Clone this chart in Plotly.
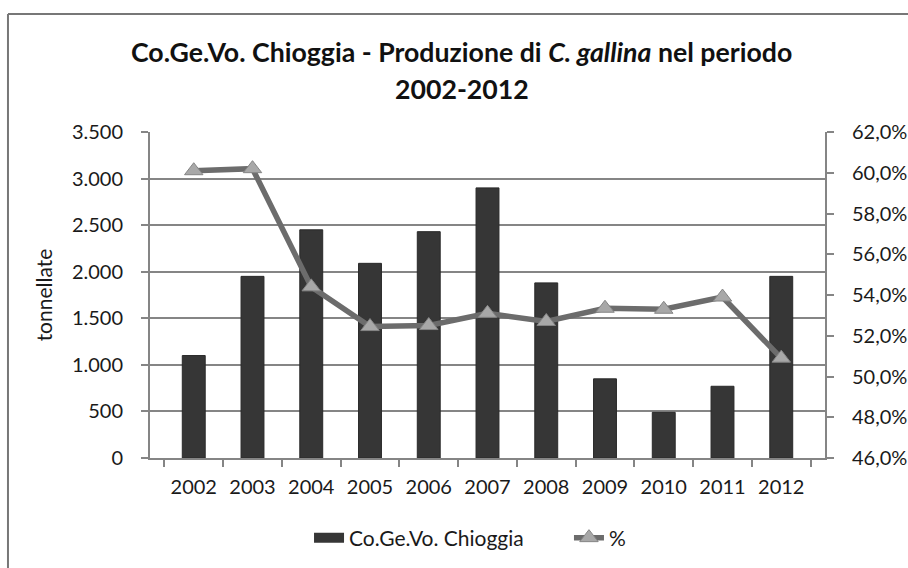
import plotly.graph_objects as go

years = ["2002", "2003", "2004", "2005", "2006", "2007", "2008", "2009", "2010", "2011", "2012"]
tonnes = [1100, 1950, 2450, 2090, 2430, 2900, 1880, 850, 490, 770, 1950]
pct = [60.1, 60.2, 54.4, 52.45, 52.5, 53.1, 52.7, 53.35, 53.3, 53.9, 50.9]

title_line1 = "<b>Co.Ge.Vo. Chioggia - Produzione di <i>C. gallina</i> nel periodo</b>"
title_line2 = "<b>2002-2012</b>"

FONT = "Lato, 'Open Sans', sans-serif"
GRID = "#858585"
BAR = "#363636"

fig = go.Figure()
fig.add_trace(go.Bar(
    x=years, y=tonnes, name="Co.Ge.Vo. Chioggia",
    marker=dict(color=BAR, line=dict(color="#2a2a2a", width=1)),
    width=0.39, showlegend=False,
))
# legend entry drawn as a wide flat bar, like the reference
fig.add_trace(go.Scatter(
    x=[None], y=[None], name="Co.Ge.Vo. Chioggia", mode="lines",
    line=dict(color=BAR, width=11), legend="legend",
))
fig.add_trace(go.Scatter(
    x=years, y=pct, name="%", yaxis="y2", mode="lines+markers",
    line=dict(color="#6c6c6c", width=5.5),
    marker=dict(symbol="triangle-up", size=16, color="#a8a8a8",
                line=dict(color="#858585", width=1)),
    legend="legend2",
))

fig.update_layout(
    width=908, height=568,
    margin=dict(l=150, r=83, t=132, b=110, autoexpand=False),
    paper_bgcolor="white", plot_bgcolor="white",
    separators=",.",
    font=dict(family=FONT, size=20, color="#1a1a1a"),
    showlegend=True,
    legend=dict(orientation="h", x=0.2356, xanchor="left", y=-0.2454, yanchor="middle",
                font=dict(family=FONT, size=21), bgcolor="rgba(0,0,0,0)"),
    legend2=dict(orientation="h", x=0.6207, xanchor="left", y=-0.2454, yanchor="middle",
                 font=dict(family=FONT, size=21), bgcolor="rgba(0,0,0,0)"),
    xaxis=dict(
        type="category", showgrid=False, showline=True, linecolor=GRID, linewidth=2,
        ticks="outside", tickson="boundaries", ticklen=7, tickcolor=GRID, tickwidth=2,
        tickfont=dict(size=20), ticklabelstandoff=10, automargin=False,
    ),
    yaxis=dict(
        range=[0, 3500], dtick=500, tickformat=",d",
        showgrid=True, gridcolor=GRID, gridwidth=2,
        showline=True, linecolor=GRID, linewidth=2,
        ticks="outside", ticklen=7, tickcolor=GRID, tickwidth=2,
        title=dict(text="tonnellate", font=dict(size=21), standoff=14),
        tickfont=dict(size=20), zeroline=False, ticklabelstandoff=14, automargin=False,
    ),
    yaxis2=dict(
        range=[46, 62], dtick=2, tickformat=".1f", ticksuffix="%",
        overlaying="y", side="right", showgrid=False,
        showline=True, linecolor=GRID, linewidth=2,
        ticks="outside", ticklen=7, tickcolor=GRID, tickwidth=2,
        tickfont=dict(size=20), zeroline=False, ticklabelstandoff=14, automargin=False,
    ),
    annotations=[
        dict(text=title_line1, xref="paper", yref="paper", x=0.462, y=1.2454,
             xanchor="center", yanchor="middle", showarrow=False,
             font=dict(family=FONT, size=26.7, color="#111111")),
        dict(text=title_line2, xref="paper", yref="paper", x=0.462, y=1.1319,
             xanchor="center", yanchor="middle", showarrow=False,
             font=dict(family=FONT, size=26.7, color="#111111")),
    ],
    shapes=[
        dict(type="line", xref="paper", yref="paper", x0=-0.2104, x1=-0.2104, y0=-0.5, y1=1.362,
             line=dict(color="#777777", width=2)),
        dict(type="line", xref="paper", yref="paper", x0=-0.2104, x1=1.5, y0=1.362, y1=1.362,
             line=dict(color="#777777", width=2)),
    ],
)

fig.write_html("out.html", config={"displayModeBar": False},
               post_script="document.body.style.margin='0';")
